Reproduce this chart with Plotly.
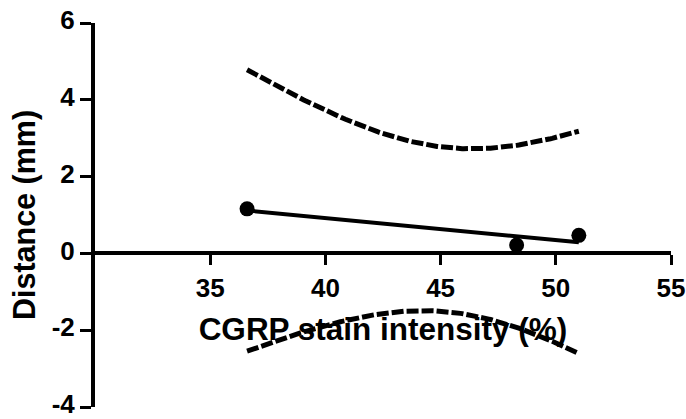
import numpy as np
import plotly.graph_objects as go

# Data
cgrp_intensity = [36.6, 48.3, 51.0]
distance_mm = [1.16, 0.22, 0.47]
x_tick_vals = [35, 40, 45, 50, 55]
x_tick_text = ["35", "40", "45", "50", "55"]
y_tick_vals = [-4, -2, 0, 2, 4, 6]
y_tick_text = ["-4", "-2", "0", "2", "4", "6"]

# Linear regression with 95% confidence bands (as in the original analysis)
x = np.array(cgrp_intensity)
y = np.array(distance_mm)
n = len(x)
slope, intercept = np.polyfit(x, y, 1)
resid = y - (slope * x + intercept)
s = np.sqrt(np.sum(resid ** 2) / (n - 2))
t_crit = 12.706  # t(0.975, df=1)
xm = x.mean()
sxx = np.sum((x - xm) ** 2)
xf = np.linspace(x.min(), x.max(), 200)
yf = slope * xf + intercept
half = t_crit * s * np.sqrt(1 / n + (xf - xm) ** 2 / sxx)
upper = yf + half
lower = yf - half

FONT = "Arial, Liberation Sans, sans-serif"

fig = go.Figure()
fig.add_trace(go.Scatter(x=xf, y=upper, mode="lines",
                         line=dict(color="black", width=5, dash="12px,3px"),
                         showlegend=False, hoverinfo="skip"))
fig.add_trace(go.Scatter(x=xf, y=lower, mode="lines",
                         line=dict(color="black", width=5, dash="12px,3px"),
                         showlegend=False, hoverinfo="skip"))
fig.add_trace(go.Scatter(x=[xf[0], xf[-1]], y=[yf[0], yf[-1]], mode="lines",
                         line=dict(color="black", width=4),
                         showlegend=False))
fig.add_trace(go.Scatter(x=cgrp_intensity, y=distance_mm, mode="markers",
                         marker=dict(color="black", size=15),
                         showlegend=False))

fig.update_layout(
    width=686, height=419,
    margin=dict(l=95, r=15, t=23, b=12, autoexpand=False),
    plot_bgcolor="white", paper_bgcolor="white",
    font=dict(family=FONT, color="black", size=26, weight="bold"),
    xaxis=dict(
        range=[30, 55], tickvals=x_tick_vals,
        ticktext=["<b>" + t + "</b>" for t in x_tick_text],
        anchor="free", position=0.4, automargin=False,
        showline=True, linecolor="black", linewidth=4,
        ticks="outside", ticklen=10, tickwidth=3, tickcolor="black",
        showgrid=False, zeroline=False, ticklabeloverflow="allow",
        tickfont=dict(family=FONT, size=26, color="black", weight="bold"),
        title=dict(text="<b>CGRP stain intensity (%)</b>", standoff=15,
                   font=dict(family=FONT, size=31.5, color="black", weight="bold")),
    ),
    yaxis=dict(
        range=[-4, 6], tickvals=y_tick_vals,
        ticktext=["<b>" + t + "</b>" for t in y_tick_text],
        automargin=False, ticklabelshift=-3,
        showline=True, linecolor="black", linewidth=4,
        ticks="outside", ticklen=11, tickwidth=3, tickcolor="black",
        showgrid=False, zeroline=False, ticklabeloverflow="allow",
        tickfont=dict(family=FONT, size=26, color="black", weight="bold"),
        title=dict(text="<b>Distance (mm)</b>", standoff=8,
                   font=dict(family=FONT, size=30.5, color="black", weight="bold")),
    ),
)

fig.write_html("out.html")
